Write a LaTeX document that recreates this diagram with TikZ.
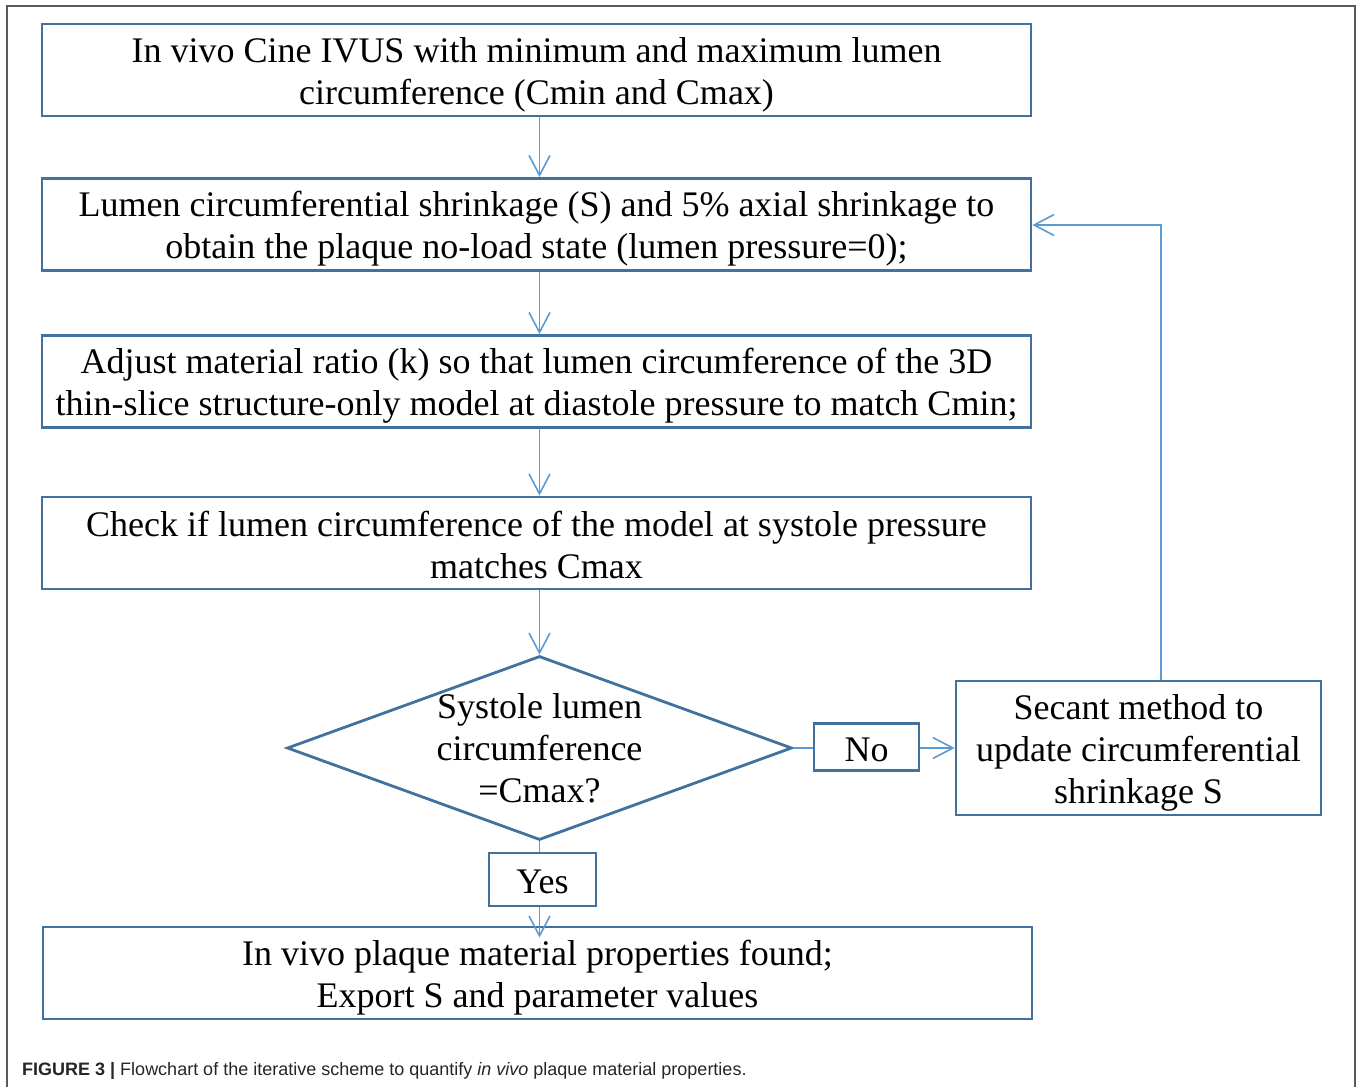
\documentclass[tikz,border=0pt]{standalone}
\usepackage{fontspec}
\setmainfont{Liberation Serif}
\newfontfamily\capfont{Liberation Sans}
\usetikzlibrary{arrows.meta,shapes.geometric,calc}
\definecolor{boxblue}{HTML}{41719C}
\definecolor{arrblue}{HTML}{5B9BD5}
\definecolor{framegray}{HTML}{5A5A5A}
\newcommand\st{\rule[-6pt]{0pt}{40pt}}
\begin{document}
\begin{tikzpicture}[x=1pt,y=-1pt,
  txt/.style={font=\fontsize{36}{42}\selectfont, align=center},
  stepbox/.style={txt, draw=boxblue, line width=2.8pt, minimum width=989pt, minimum height=92pt, inner sep=0pt},
  labelbox/.style={txt, draw=boxblue, line width=2.8pt, inner sep=0pt},
  conn/.style={draw=arrblue, line width=1.6pt},
  arr/.style={conn, -{Straight Barb[length=20pt,width=21pt]}},
]
\useasboundingbox (0,0) rectangle (1358,1087);
\draw[framegray, line width=1.5pt] (7,1095) -- (7,6) -- (1355,6) -- (1355,1095);

\node[stepbox] (b1) at (536.5,70) {\st In vivo Cine IVUS with minimum and maximum lumen\\\st circumference (Cmin and Cmax)};
\node[stepbox] (b2) at (536.5,224.5) {\st Lumen circumferential shrinkage (S) and 5\% axial shrinkage to\\\st obtain the plaque no-load state (lumen pressure=0);};
\node[stepbox] (b3) at (536.5,381.5) {\st Adjust material ratio (k) so that lumen circumference of the 3D\\\st thin-slice structure-only model at diastole pressure to match Cmin;};
\node[stepbox] (b4) at (536.5,543) {\st Check if lumen circumference of the model at systole pressure\\\st matches Cmax};
\node[diamond, draw=boxblue, line width=2.8pt, minimum width=505pt, minimum height=184pt, inner sep=0pt] (d) at (539.5,748) {};
\node[txt, inner sep=0pt] (dt) at (539.5,746) {\st Systole lumen\\\st circumference\\\st =Cmax?};
\node[labelbox, minimum width=105pt, minimum height=47pt] (no) at (866.5,747) {\st No};
\node[labelbox, minimum width=365pt, minimum height=134pt] (sec) at (1138.5,748) {\st Secant method to\\\st update circumferential\\\st shrinkage S};
\node[labelbox, minimum width=107pt, minimum height=53pt] (yes) at (542.5,879.5) {\st Yes};
\node[stepbox] (b5) at (537.5,973) {\st In vivo plaque material properties found;\\\st Export S and parameter values};

\coordinate (fb) at (1161,225);
\coordinate (ytip) at ($(d.south |- b5.north)+(0,12)$);

\draw[arr] (b1.south -| d.north) -- (b2.north -| d.north);
\draw[arr] (b2.south -| d.north) -- (b3.north -| d.north);
\draw[arr] (b3.south -| d.north) -- (b4.north -| d.north);
\draw[arr] (b4.south -| d.north) -- (d.north);
\draw[conn] (d.south) -- (d.south |- yes.north);
\draw[arr] (d.south |- yes.south) -- (ytip);
\draw[conn] (d.east) -- (d.east -| no.west);
\draw[arr] (no.east |- d.east) -- (d.east -| sec.west);
\draw[arr] (sec.north -| fb) -- (fb) -- (fb -| b2.east);

\node[anchor=base west, inner sep=0pt, font=\capfont\fontsize{18}{20}\selectfont, text=black!85] (cap) at (22,1075) {\textbf{FIGURE 3 |} Flowchart of the iterative scheme to quantify \textit{in vivo} plaque material properties.};
\end{tikzpicture}
\end{document}
